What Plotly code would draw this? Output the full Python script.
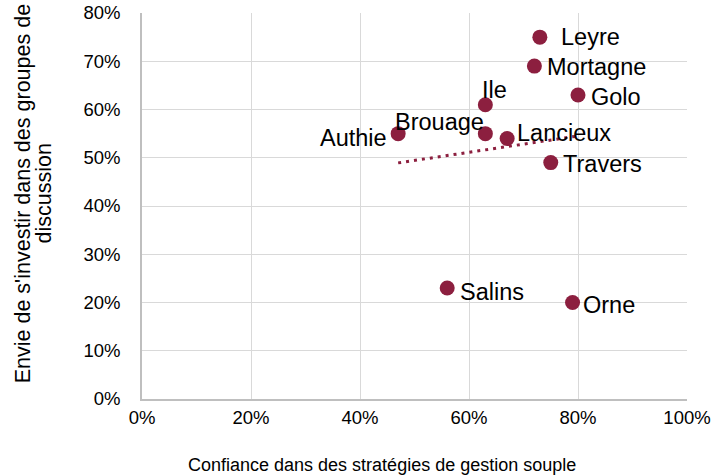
import numpy as np
import plotly.graph_objects as go

sites = ["Leyre", "Mortagne", "Golo", "Ile", "Authie", "Brouage", "Lancieux", "Travers", "Salins", "Orne"]
confiance = [0.73, 0.72, 0.80, 0.63, 0.47, 0.63, 0.67, 0.75, 0.56, 0.79]
envie = [0.75, 0.69, 0.63, 0.61, 0.55, 0.55, 0.54, 0.49, 0.23, 0.20]

x_ticks = [0, 0.2, 0.4, 0.6, 0.8, 1.0]
y_ticks = [0, 0.1, 0.2, 0.3, 0.4, 0.5, 0.6, 0.7, 0.8]

x_title = "Confiance dans des stratégies de gestion souple"
y_title_lines = ["Envie de s'investir dans des groupes de", "discussion"]

COLOR = "#8C1F3F"
FONT = "Liberation Sans, Arial, sans-serif"

# label placement (pixel offsets): xanchor, yanchor, xshift, yshift
label_style = {
    "Leyre": ("left", "middle", 19, 0),
    "Mortagne": ("left", "middle", 11, -1),
    "Golo": ("left", "middle", 11, -2),
    "Ile": ("center", "bottom", 9, 0),
    "Authie": ("right", "middle", -9, -4),
    "Brouage": ("right", "middle", 1, 12),
    "Lancieux": ("left", "middle", 8, 5),
    "Travers": ("left", "middle", 10, -1),
    "Salins": ("left", "middle", 11, -4),
    "Orne": ("left", "middle", 8, -2),
}

fig = go.Figure()

# linear trend line over the data range
slope, intercept = np.polyfit(confiance, envie, 1)
tx = np.array([min(confiance), max(confiance)])
fig.add_trace(go.Scatter(
    x=tx, y=slope * tx + intercept, mode="lines",
    line=dict(color=COLOR, width=3, dash="3px,5px"),
    hoverinfo="skip", showlegend=False,
))

fig.add_trace(go.Scatter(
    x=confiance, y=envie, mode="markers",
    marker=dict(color=COLOR, size=15, line=dict(width=0)),
    text=sites, showlegend=False,
))

for name, xv, yv in zip(sites, confiance, envie):
    xa, ya, xs, ys = label_style[name]
    fig.add_annotation(
        x=xv, y=yv, text=name, showarrow=False,
        xanchor=xa, yanchor=ya, xshift=xs, yshift=ys,
        font=dict(family=FONT, size=23.5, color="#000000"),
    )

# axis titles as paper-positioned annotations
fig.add_annotation(
    text=x_title, xref="paper", yref="paper", x=0.44, y=-0.171,
    xanchor="center", yanchor="middle", showarrow=False,
    font=dict(family=FONT, size=18, color="#000000"),
)
for i, line in enumerate(y_title_lines):
    fig.add_annotation(
        text=line, xref="paper", yref="paper", x=[-0.219, -0.180][i], y=0.532,
        xanchor="center", yanchor="middle", showarrow=False, textangle=-90,
        font=dict(family=FONT, size=21.5, color="#000000"),
    )

fig.update_layout(
    width=716, height=476,
    margin=dict(l=142, r=29, t=13, b=77),
    paper_bgcolor="white", plot_bgcolor="white",
    font=dict(family=FONT, color="#000000"),
)

fig.update_xaxes(
    range=[0, 1], tickvals=x_ticks, tickformat=".0%",
    showgrid=True, gridcolor="#D9D9D9", gridwidth=1,
    showline=True, linecolor="#BFBFBF", linewidth=1.5,
    zeroline=False, ticks="", ticklabelstandoff=1, automargin=False,
    tickfont=dict(family=FONT, size=18.5, color="#000000"),
)
fig.update_yaxes(
    range=[0, 0.8], tickvals=y_ticks, tickformat=".0%",
    showgrid=True, gridcolor="#D9D9D9", gridwidth=1,
    showline=True, linecolor="#BFBFBF", linewidth=1.5,
    zeroline=False, ticks="", ticklabelstandoff=16, automargin=False,
    tickfont=dict(family=FONT, size=18.5, color="#000000"),
)

fig.write_html("out.html", config={"displayModeBar": False},
               post_script="document.body.style.margin='0';")
